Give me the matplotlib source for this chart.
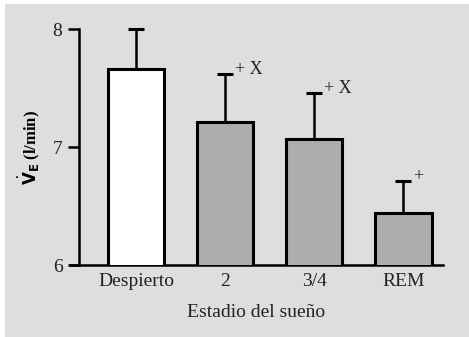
import matplotlib
matplotlib.use("Agg")
import matplotlib.pyplot as plt
from matplotlib.patches import Rectangle

categories = ["Despierto", "2", "3/4", "REM"]
values = [7.66, 7.21, 7.07, 6.44]
errors = [0.34, 0.41, 0.39, 0.27]
marks = ["", "+ X", "+ X", "+"]
colors = ["white", "#adadad", "#adadad", "#adadad"]

W, H = 469, 337
fig = plt.figure(figsize=(W / 100, H / 100), dpi=100, facecolor="white")
fig.patches.append(Rectangle((5 / W, 0), 1, (H - 4) / H, transform=fig.transFigure,
                             facecolor="#dedede", edgecolor="none", zorder=-10))

ax_left, ax_right = 70, 443
ax_bottom, ax_top = 265, 29.3
ax = fig.add_axes([ax_left / W, (H - ax_bottom) / H, (ax_right - ax_left) / W,
                   (ax_bottom - ax_top) / H])
ax.set_facecolor("none")

xs = list(range(len(categories)))
bars = ax.bar(xs, values, width=0.63, color=colors, edgecolor="black",
              linewidth=2.2, zorder=3)
ax.errorbar(xs, values, yerr=[[0] * len(errors), errors], fmt="none",
            ecolor="black", elinewidth=1.8, capsize=5.5, capthick=2.2,
            zorder=2, clip_on=False)

serif = "Liberation Serif"
for x, v, e, m in zip(xs, values, errors, marks):
    if m:
        ax.annotate(m, (x, v + e), xytext=(7, -3),
                    textcoords="offset points", ha="left", va="bottom",
                    fontsize=13, family=serif, color="#222222")

ax.set_xlim(-0.742, 3.444)
ax.set_ylim(6, 8)
ax.spines["left"].set_position(("data", -0.64))
ax.spines["top"].set_visible(False)
ax.spines["right"].set_visible(False)
for s in ("left", "bottom"):
    ax.spines[s].set_linewidth(1.8)
ax.set_yticks([6, 7, 8])
ax.set_yticklabels(["6", "7", "8"], family=serif, fontsize=14, color="#222222")
ax.set_xticks(xs)
ax.set_xticklabels(categories, family=serif, fontsize=14, color="#222222")
ax.tick_params(axis="y", length=8, width=1.8, pad=4)
ax.tick_params(axis="x", length=0, pad=6)
ax.set_xlabel("Estadio del sueño", family=serif, fontsize=14, color="#222222",
              labelpad=10)
ax.set_ylabel(r"$\dot{\mathbf{V}}_\mathbf{E}$ (l/min)", family=serif,
              fontsize=12, fontweight="bold", labelpad=8)

fig.savefig("out.png", dpi=100, facecolor=fig.get_facecolor())
